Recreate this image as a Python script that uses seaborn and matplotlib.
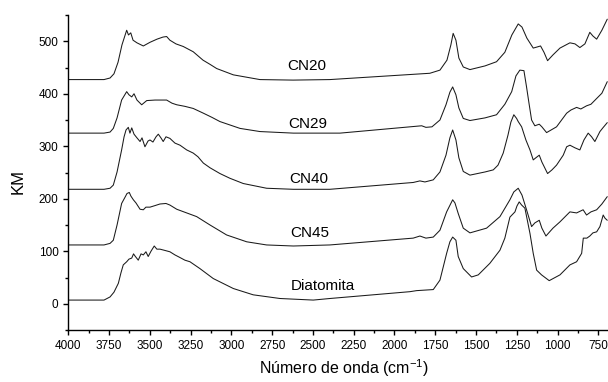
import numpy as np
import pandas as pd
import matplotlib
matplotlib.use("Agg")
import matplotlib.pyplot as plt
from matplotlib.ticker import MultipleLocator
import seaborn as sns

# --- spectra: wavenumber (cm-1) and Kubelka-Munk values ---------------------
cn20_wn = [4000, 3781, 3744, 3720, 3695, 3671, 3642, 3631, 3617, 3603, 3579, 3540,
           3499, 3456, 3419, 3397, 3377, 3340, 3295, 3234, 3174, 3131, 3090, 2988,
           2825, 2622, 2396, 1783, 1721, 1678, 1654, 1640, 1623, 1605, 1578, 1537,
           1445, 1374, 1323, 1280, 1241, 1218, 1188, 1149, 1126, 1104, 1083, 1061,
           1028, 985, 924, 893, 863, 832, 802, 783, 760, 728, 695]
cn20_km = [427, 427, 430, 438, 460, 493, 521, 512, 516, 502, 497, 491,
           498, 504, 508, 509, 502, 495, 490, 480, 464, 456, 448, 436,
           427, 426, 427, 439, 445, 464, 493, 515, 502, 468, 451, 446,
           453, 461, 479, 512, 533, 527, 506, 487, 489, 491, 479, 463,
           474, 487, 497, 495, 488, 495, 517, 510, 504, 521, 542]

cn29_wn = [4000, 3781, 3744, 3724, 3701, 3673, 3642, 3628, 3611, 3597, 3579, 3550,
           3519, 3468, 3397, 3364, 3335, 3285, 3234, 3172, 3119, 3070, 2947, 2825,
           2620, 2334, 1833, 1807, 1770, 1721, 1684, 1660, 1643, 1623, 1605, 1578,
           1537, 1445, 1374, 1323, 1281, 1255, 1231, 1206, 1190, 1175, 1159, 1139,
           1112, 1096, 1067, 1006, 944, 918, 883, 857, 822, 795, 760, 728, 695]
cn29_km = [325, 325, 327, 334, 354, 388, 404, 398, 394, 400, 388, 379,
           387, 388, 388, 382, 379, 376, 372, 363, 355, 347, 334, 328,
           325, 325, 339, 336, 337, 350, 379, 403, 413, 398, 373, 353,
           349, 354, 360, 380, 404, 434, 445, 444, 413, 382, 350, 339,
           342, 337, 326, 337, 363, 369, 374, 371, 377, 380, 391, 401, 423]

cn40_wn = [4000, 3781, 3744, 3724, 3701, 3673, 3658, 3646, 3632, 3622, 3611, 3597,
           3579, 3560, 3548, 3530, 3511, 3499, 3481, 3462, 3448, 3432, 3418, 3401,
           3377, 3346, 3315, 3274, 3234, 3205, 3172, 3131, 3070, 3009, 2927, 2784,
           2620, 2396, 1885, 1844, 1813, 1762, 1721, 1684, 1660, 1643, 1623, 1605,
           1578, 1537, 1445, 1394, 1365, 1333, 1304, 1286, 1268, 1251, 1241, 1220,
           1194, 1169, 1149, 1133, 1112, 1096, 1061, 1034, 1006, 965, 944, 924,
           893, 863, 838, 812, 791, 771, 740, 722, 695]
cn40_km = [218, 218, 220, 226, 251, 293, 318, 331, 336, 325, 335, 323,
           316, 309, 316, 299, 310, 312, 308, 318, 323, 316, 309, 318,
           315, 306, 302, 293, 287, 280, 268, 259, 248, 239, 229, 220,
           218, 218, 231, 234, 232, 236, 251, 283, 316, 331, 312, 278,
           252, 245, 251, 255, 264, 287, 321, 346, 360, 353, 347, 337,
           312, 293, 274, 278, 283, 270, 248, 255, 264, 283, 299, 302,
           297, 293, 312, 325, 318, 309, 328, 335, 345]

cn45_wn = [4000, 3781, 3744, 3724, 3701, 3673, 3652, 3640, 3626, 3616, 3601, 3585,
           3560, 3540, 3524, 3499, 3468, 3438, 3401, 3377, 3335, 3274, 3213, 3131,
           3029, 2906, 2784, 2620, 2396, 1885, 1844, 1807, 1762, 1721, 1680, 1643,
           1629, 1609, 1578, 1537, 1435, 1353, 1292, 1268, 1241, 1218, 1190, 1159,
           1139, 1112, 1096, 1071, 1028, 985, 924, 883, 843, 822, 795, 760, 728, 695]
cn45_km = [112, 112, 115, 121, 150, 191, 203, 210, 212, 205, 198, 192,
           180, 179, 184, 184, 187, 190, 191, 188, 180, 173, 166, 150,
           131, 118, 112, 110, 112, 125, 129, 125, 127, 140, 175, 198,
           192, 172, 144, 135, 144, 166, 198, 213, 220, 207, 179, 147,
           154, 159, 144, 129, 144, 156, 175, 173, 179, 169, 175, 179, 190, 204]

diat_wn = [4000, 3781, 3744, 3720, 3693, 3677, 3663, 3642, 3628, 3611, 3600, 3591,
           3571, 3554, 3540, 3524, 3510, 3493, 3473, 3457, 3438, 3413, 3377, 3346,
           3315, 3285, 3254, 3193, 3111, 2988, 2866, 2702, 2498, 2396, 1905, 1864,
           1762, 1721, 1680, 1660, 1643, 1623, 1609, 1578, 1527, 1486, 1415, 1353,
           1323, 1292, 1261, 1249, 1235, 1220, 1200, 1169, 1149, 1128, 1098, 1051,
           985, 924, 883, 852, 842, 820, 802, 783, 760, 740, 720, 709, 695]
diat_km = [7, 7, 13, 22, 39, 59, 74, 80, 85, 87, 95, 91,
           83, 95, 93, 99, 90, 100, 110, 104, 104, 102, 99, 93,
           88, 83, 80, 67, 48, 29, 17, 10, 7, 10, 23, 25,
           27, 45, 96, 118, 127, 121, 90, 67, 51, 55, 77, 102,
           125, 165, 175, 186, 194, 188, 182, 134, 96, 64, 55, 44,
           55, 74, 80, 96, 125, 125, 129, 135, 137, 147, 169, 163, 159]

samples = ["CN20", "CN29", "CN40", "CN45", "Diatomita"]
wavenumbers = [cn20_wn, cn29_wn, cn40_wn, cn45_wn, diat_wn]
km_values = [cn20_km, cn29_km, cn40_km, cn45_km, diat_km]

# where each sample name is written (wavenumber, KM at text baseline)
label_wn = [2537, 2530, 2527, 2518, 2441]
label_km = [445, 335, 230, 127, 26]

frames = [pd.DataFrame({"wn": w, "km": k, "sample": s})
          for s, w, k in zip(samples, wavenumbers, km_values)]
df = pd.concat(frames, ignore_index=True)

# --- figure -------------------------------------------------------------------
sns.set_theme(style="ticks")
plt.rcParams["font.family"] = ["Liberation Sans", "DejaVu Sans"]

fig = plt.figure(figsize=(6.08, 3.82), dpi=100)
ax = fig.add_axes([68.3 / 608, 52 / 382, 546.3 / 608, 315 / 382])

sns.lineplot(data=df, x="wn", y="km", units="sample", estimator=None,
             sort=False, color="#1a1a1a", linewidth=0.75, ax=ax, legend=False)

for name, xw, yk in zip(samples, label_wn, label_km):
    ax.text(xw, yk, name, ha="center", va="baseline", fontsize=11, color="black")

ax.set_xlim(4000, 650)
ax.set_ylim(-50, 550)
ax.xaxis.set_major_locator(MultipleLocator(250))
ax.xaxis.set_minor_locator(MultipleLocator(125))
ax.yaxis.set_major_locator(MultipleLocator(100))
ax.yaxis.set_minor_locator(MultipleLocator(50))
ax.set_yticks([0, 100, 200, 300, 400, 500])

for side in ("top", "right"):
    ax.spines[side].set_visible(False)
for side in ("left", "bottom"):
    ax.spines[side].set_linewidth(1.0)
    ax.spines[side].set_color("black")

ax.tick_params(axis="both", which="major", length=3.5, width=1.0, color="black",
               labelsize=8.5, labelcolor="black", pad=3.5, direction="out")
ax.tick_params(axis="both", which="minor", length=2.5, width=1.0, color="black",
               direction="out")

ax.set_xlabel(r"Número de onda (cm$^{\mathregular{-1}}$)", fontsize=11.5, color="black")
ax.set_ylabel("KM", fontsize=12, color="black")
ax.xaxis.set_label_coords(0.505, -0.088)
ax.yaxis.set_label_coords(-0.079, 0.473)

fig.savefig("out.png", dpi=100)
